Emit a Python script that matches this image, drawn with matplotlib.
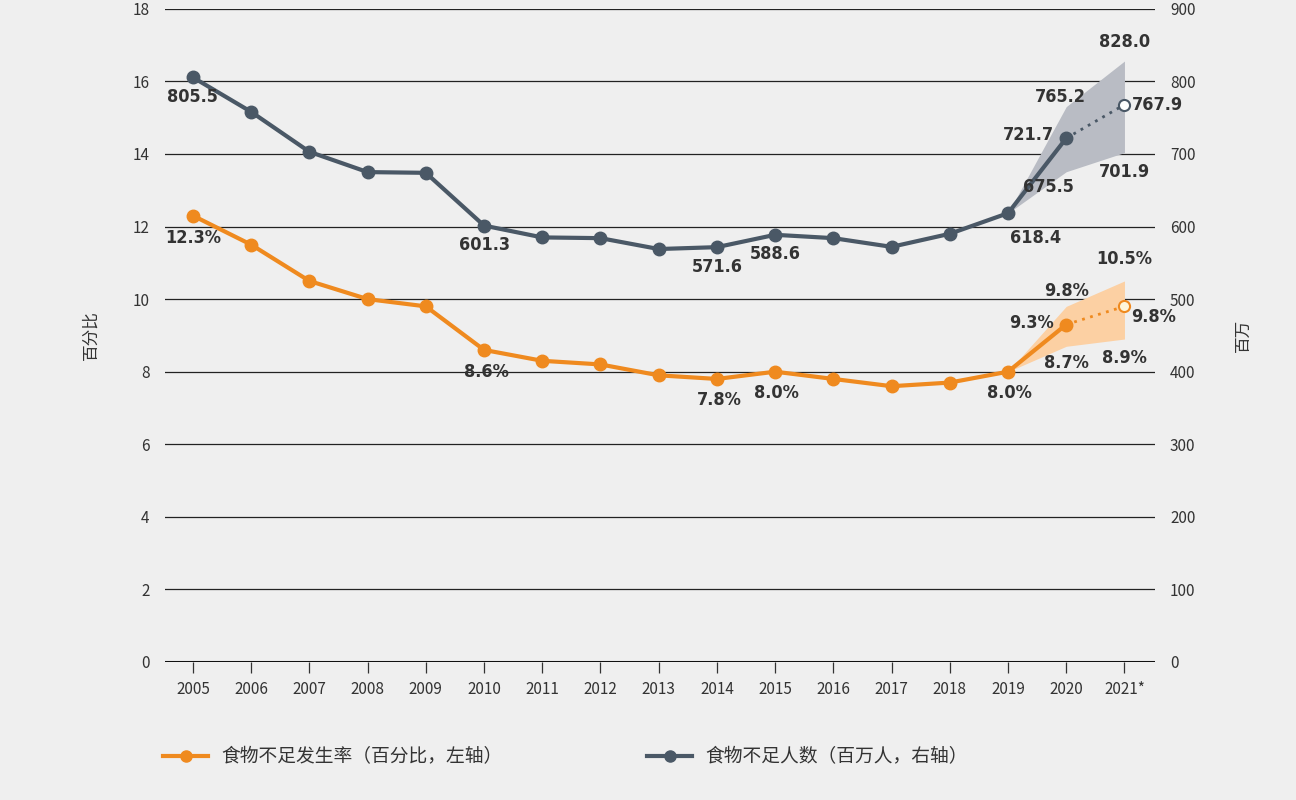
"""Food insecurity prevalence (left axis) and number of people (right axis), 2005-2021*."""
import matplotlib
matplotlib.use('Agg')
import matplotlib.pyplot as plt
from matplotlib.lines import Line2D

plt.rcParams['font.family'] = ['Noto Sans CJK SC', 'DejaVu Sans']

YEARS = list(range(2005, 2022))
YEAR_LABELS = [str(y) for y in range(2005, 2021)] + ['2021*']

# prevalence, % (left axis)
RATE = [12.3, 11.5, 10.5, 10.0, 9.8, 8.6, 8.3, 8.2, 7.9, 7.8, 8.0, 7.8, 7.6, 7.7, 8.0, 9.3, 9.8]
RATE_LOW = [8.0, 8.7, 8.9]     # 2019, 2020, 2021 band
RATE_HIGH = [8.0, 9.8, 10.5]

# number of people, millions (right axis)
PEOPLE = [805.5, 758, 703, 675, 674, 601.3, 585, 584, 569, 571.6, 588.6, 584, 572, 590,
          618.4, 721.7, 767.9]
PEOPLE_LOW = [618.4, 675.5, 701.9]
PEOPLE_HIGH = [618.4, 765.2, 828.0]

ORANGE = '#ef8a1f'
GREY = '#4a5866'
BG = '#efefef'

fig = plt.figure(figsize=(12.96, 8), dpi=100, facecolor=BG)
ax = fig.add_axes([0.1273, 0.1725, 0.7637, 0.8165])
ax.set_facecolor(BG)
ax2 = ax.twinx()

ax.set_xlim(2004.52, 2021.52)
ax.set_ylim(0, 18)
ax2.set_ylim(0, 900)

for s in list(ax.spines.values()) + list(ax2.spines.values()):
    s.set_visible(False)

for v in range(2, 19, 2):
    ax.axhline(v, color='#222222', lw=0.9, zorder=0)
ax.axhline(0, color='#111111', lw=2.2, zorder=0)

ax.set_xticks(YEARS)
ax.set_xticklabels(YEAR_LABELS)
ax.set_yticks(range(0, 19, 2))
ax2.set_yticks(range(0, 901, 100))
ax.tick_params(axis='x', length=8, width=0.9, color='#333333', labelsize=11, labelcolor='#333333', pad=6)
ax.tick_params(axis='y', length=0, labelsize=11, labelcolor='#333333', pad=11)
ax2.tick_params(axis='y', length=0, labelsize=11, labelcolor='#333333', pad=11)
ax.set_ylabel('百分比', fontsize=12, color='#333333', labelpad=24)
ax2.set_ylabel('百万', fontsize=12, color='#333333', labelpad=28)

# uncertainty bands
ax.fill_between(YEARS[-3:], RATE_LOW, RATE_HIGH, color='#fcd0a3', lw=0, zorder=1)
ax2.fill_between(YEARS[-3:], PEOPLE_LOW, PEOPLE_HIGH, color='#b9bcc4', lw=0, zorder=1)

# solid lines up to 2020, dotted to 2021
ax.plot(YEARS[:-1], RATE[:-1], color=ORANGE, lw=3, marker='o', ms=9, zorder=3)
ax.plot(YEARS[-2:], RATE[-2:], color=ORANGE, lw=2, ls=(0, (1, 2)), zorder=3)
ax.plot(YEARS[-1], RATE[-1], marker='o', ms=8, mfc='#fff6d8', mec=ORANGE, mew=1.5, zorder=4)

ax2.plot(YEARS[:-1], PEOPLE[:-1], color=GREY, lw=3, marker='o', ms=9, zorder=3)
ax2.plot(YEARS[-2:], PEOPLE[-2:], color=GREY, lw=2, ls=(0, (1, 2)), zorder=3)
ax2.plot(YEARS[-1], PEOPLE[-1], marker='o', ms=8, mfc='white', mec=GREY, mew=1.5, zorder=4)

lab = dict(fontsize=13, fontweight='bold', fontstretch='condensed', color='#333333',
           family='DejaVu Sans', textcoords='offset points', zorder=5)


def note(a, txt, x, y, dx, dy, ha='center', va='center'):
    a.annotate(txt, (x, y), xytext=(dx, dy), ha=ha, va=va, **lab)


# grey labels
note(ax2, '805.5', 2005, 805.5, 0, -14)
note(ax2, '601.3', 2010, 601.3, 0, -14)
note(ax2, '571.6', 2014, 571.6, 0, -14)
note(ax2, '588.6', 2015, 588.6, 0, -14)
note(ax2, '618.4', 2019, 618.4, 20, -18)
note(ax2, '721.7', 2020, 721.7, -9, 2, ha='right')
note(ax2, '765.2', 2020, 765.2, -4, 7)
note(ax2, '675.5', 2020, 675.5, -13, -11)
note(ax2, '828.0', 2021, 828.0, 0, 14)
note(ax2, '767.9', 2021, 767.9, 5, 0, ha='left')
note(ax2, '701.9', 2021, 701.9, 0, -14)

# orange labels
note(ax, '12.3%', 2005, 12.3, 0, -16)
note(ax, '8.6%', 2010, 8.6, 2, -16)
note(ax, '7.8%', 2014, 7.8, 2, -15)
note(ax, '8.0%', 2015, 8.0, 1, -15)
note(ax, '8.0%', 2019, 8.0, 1, -15)
note(ax, '9.3%', 2020, 9.3, -9, 1, ha='right')
note(ax, '9.8%', 2020, 9.8, 0, 11)
note(ax, '8.7%', 2020, 8.7, 0, -12)
note(ax, '10.5%', 2021, 10.5, 0, 16)
note(ax, '9.8%', 2021, 9.8, 5, -8, ha='left')
note(ax, '8.9%', 2021, 8.9, 0, -14)

handles = [Line2D([0], [0], color=ORANGE, lw=3, marker='o', ms=8),
           Line2D([0], [0], color=GREY, lw=3, marker='o', ms=8)]
fig.legend(handles, ['食物不足发生率（百分比，左轴）', '食物不足人数（百万人，右轴）'],
           loc='center left', bbox_to_anchor=(0.113, 0.054), ncol=2, frameon=False,
           fontsize=13.5, handlelength=2.4, handletextpad=0.7, columnspacing=7.7,
           labelcolor='#333333')

fig.savefig('out.png', dpi=100, facecolor=BG)
